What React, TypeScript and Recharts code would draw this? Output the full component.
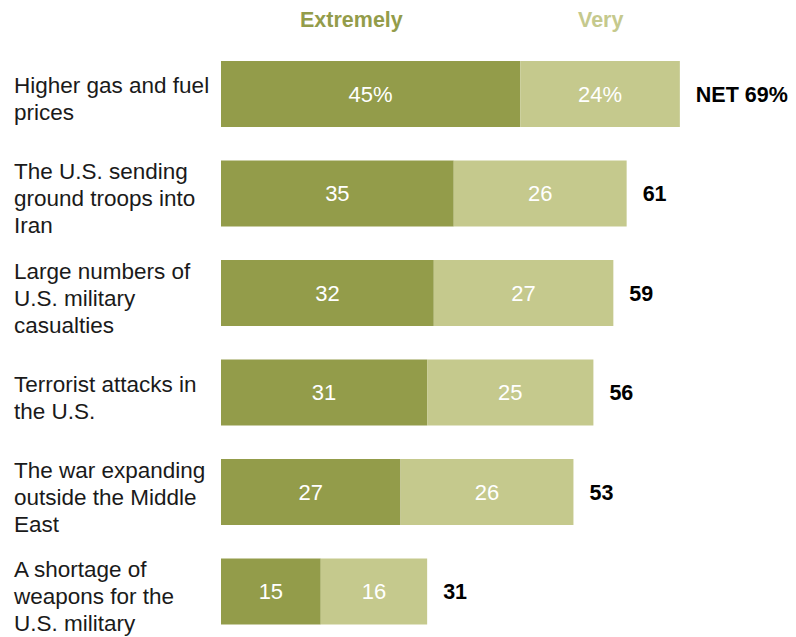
import React from 'react';
import { BarChart, Bar, XAxis, YAxis, LabelList } from 'recharts';

const categories = [
  'Higher gas and fuel prices',
  'The U.S. sending ground troops into Iran',
  'Large numbers of U.S. military casualties',
  'Terrorist attacks in the U.S.',
  'The war expanding outside the Middle East',
  'A shortage of weapons for the U.S. military',
];
const categoryLines = [
  ['Higher gas and fuel', 'prices'],
  ['The U.S. sending', 'ground troops into', 'Iran'],
  ['Large numbers of', 'U.S. military', 'casualties'],
  ['Terrorist attacks in', 'the U.S.'],
  ['The war expanding', 'outside the Middle', 'East'],
  ['A shortage of', 'weapons for the', 'U.S. military'],
];
const extremely = [45, 35, 32, 31, 27, 15];
const very = [24, 26, 27, 25, 26, 16];
const net = [69, 61, 59, 56, 53, 31];

const DARK = '#939c4a';
const LIGHT = '#c5c98d';
const FONT = '"Liberation Sans", Arial, sans-serif';

const data = categories.map((c, i) => ({
  category: c,
  extremely: extremely[i],
  very: very[i],
  extremelyLabel: i === 0 ? `${extremely[i]}%` : `${extremely[i]}`,
  veryLabel: i === 0 ? `${very[i]}%` : `${very[i]}`,
  netLabel: i === 0 ? `NET ${net[i]}%` : `${net[i]}`,
}));

const CategoryTick = (props: any) => {
  const { y, payload } = props;
  const idx = categories.indexOf(payload.value);
  const lines = categoryLines[idx] || [payload.value];
  const lh = 27;
  const first = y - ((lines.length - 1) * lh) / 2 + 13;
  return (
    <text x={14} y={first} textAnchor="start" fill="#1a1a1a" fontSize={22.5} fontFamily={FONT}>
      {lines.map((l: string, i: number) => (
        <tspan key={i} x={14} y={first + i * lh}>
          {l}
        </tspan>
      ))}
    </text>
  );
};

export default function App() {
  return (
    <div style={{ position: 'absolute', left: 0, top: 0, width: 796, height: 637, overflow: 'hidden', background: '#fff' }}>
      <div style={{ position: 'absolute', left: 300, top: 8, fontFamily: FONT, fontWeight: 'bold', fontSize: 21.5, color: DARK }}>
        Extremely
      </div>
      <div style={{ position: 'absolute', left: 578, top: 8, fontFamily: FONT, fontWeight: 'bold', fontSize: 21.5, color: LIGHT }}>
        Very
      </div>
      <BarChart
        width={796}
        height={641}
        data={data}
        layout="vertical"
        margin={{ top: 44, right: 43, bottom: 0, left: 0 }}
      >
        <XAxis type="number" domain={[0, 80]} hide />
        <YAxis
          type="category"
          dataKey="category"
          width={221}
          axisLine={false}
          tickLine={false}
          tick={<CategoryTick />}
          interval={0}
        />
        <Bar dataKey="extremely" stackId="a" fill={DARK} barSize={66} isAnimationActive={false}>
          <LabelList dataKey="extremelyLabel" position="center" fill="#ffffff" fontSize={22} fontFamily={FONT} />
        </Bar>
        <Bar dataKey="very" stackId="a" fill={LIGHT} barSize={66} isAnimationActive={false}>
          <LabelList dataKey="veryLabel" position="center" fill="#ffffff" fontSize={22} fontFamily={FONT} />
          <LabelList
            dataKey="netLabel"
            position="right"
            offset={16}
            fill="#000000"
            fontSize={21.5}
            fontWeight="bold"
            fontFamily={FONT}
          />
        </Bar>
      </BarChart>
    </div>
  );
}
